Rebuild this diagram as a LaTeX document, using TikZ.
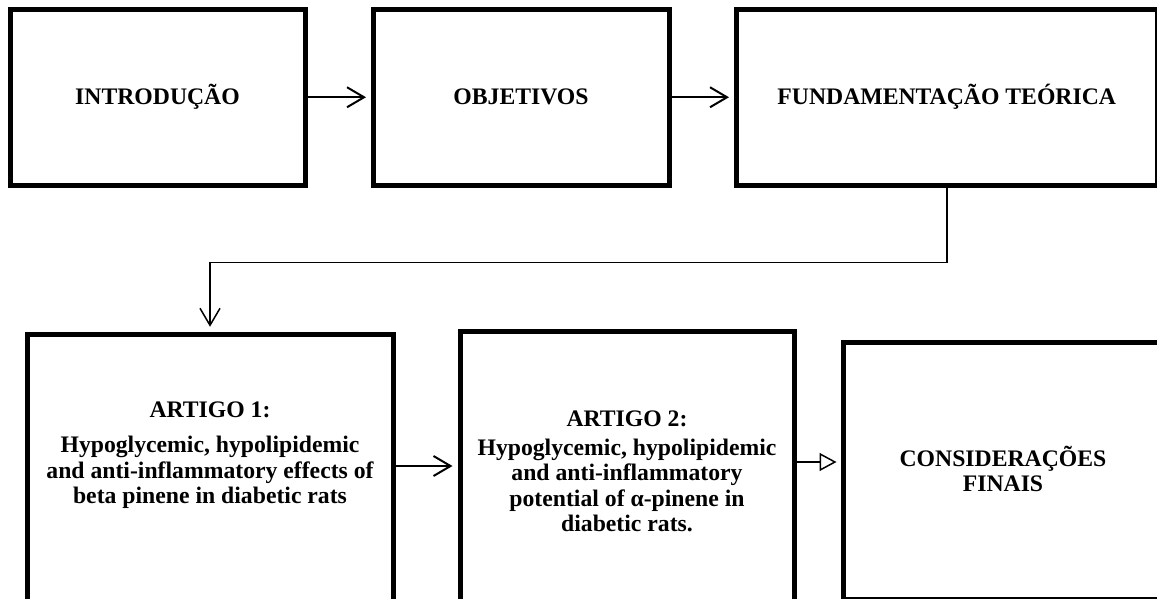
\documentclass[tikz,border=0pt]{standalone}
\usepackage{fontspec}
\setmainfont{Liberation Serif}
\usetikzlibrary{arrows.meta,calc}
\begin{document}
\begin{tikzpicture}[x=1pt,y=-1pt,
  box/.style={draw=black,line width=5pt,rectangle,inner sep=0pt,align=center,
    font=\bfseries\fontsize{23.7}{25.5}\selectfont},
  txt/.style={align=center,inner sep=0pt,font=\bfseries\fontsize{23.7}{25.5}\selectfont},
  conn/.style={line width=2pt,-{Straight Barb[length=17pt,width=20pt]}},
  thinconn/.style={line width=1.5pt,-{Straight Barb[length=17pt,width=20pt]}},
  hollow/.style={line width=1.5pt,-{Triangle[open,length=17pt,width=18pt]}}]
\useasboundingbox (0,0) rectangle (1157,598);
\begin{scope}
\clip (0,0) rectangle (1157,598);
% top row
\node[box,minimum width=295pt,minimum height=175.5pt] (t1) at (157.5,97.25) {INTRODUÇÃO};
\node[box,minimum width=296pt,minimum height=175.5pt] (t2) at (521,97.25) {OBJETIVOS};
\node[box,minimum width=421.5pt,minimum height=175.5pt] (t3) at (946.75,97.25) {FUNDAMENTAÇÃO TEÓRICA};
% bottom row
\node[box,minimum width=366pt,minimum height=285.5pt] (a1) at (210,477) {};
\node[box,minimum width=334pt,minimum height=289pt] (a2) at (627,475.5) {};
\node[box,minimum width=320pt,minimum height=257pt] (a3) at (1003,471) {};
% texts
\node[txt] (a1t) at (210,455) {ARTIGO 1:\\[10pt]Hypoglycemic, hypolipidemic\\and anti-inflammatory effects of\\beta pinene in diabetic rats};
\node[txt] (a2t) at (627,471.5) {ARTIGO 2:\\[3pt]Hypoglycemic, hypolipidemic\\and anti-inflammatory\\potential of α-pinene in\\diabetic rats.};
\node[txt] (a3t) at (1003,469) {CONSIDERAÇÕES\\FINAIS};
% connectors
\draw[conn,shorten >=4.5pt] (t1.east) -- (t2.west);
\draw[conn,shorten >=4.5pt] (t2.east) -- (t3.west);
\draw[thinconn,shorten >=5pt] (t3.south) -- ++(0,75) -| (a1.north);
\draw[conn,shorten >=5pt] ([yshift=11pt]a1.east) -- ([yshift=11pt]a1.east -| a2.west);
\draw[hollow,shorten >=4pt] ([yshift=13.5pt]a2.east) -- ([yshift=13.5pt]a2.east -| a3.west);
\end{scope}
\end{tikzpicture}
\end{document}
